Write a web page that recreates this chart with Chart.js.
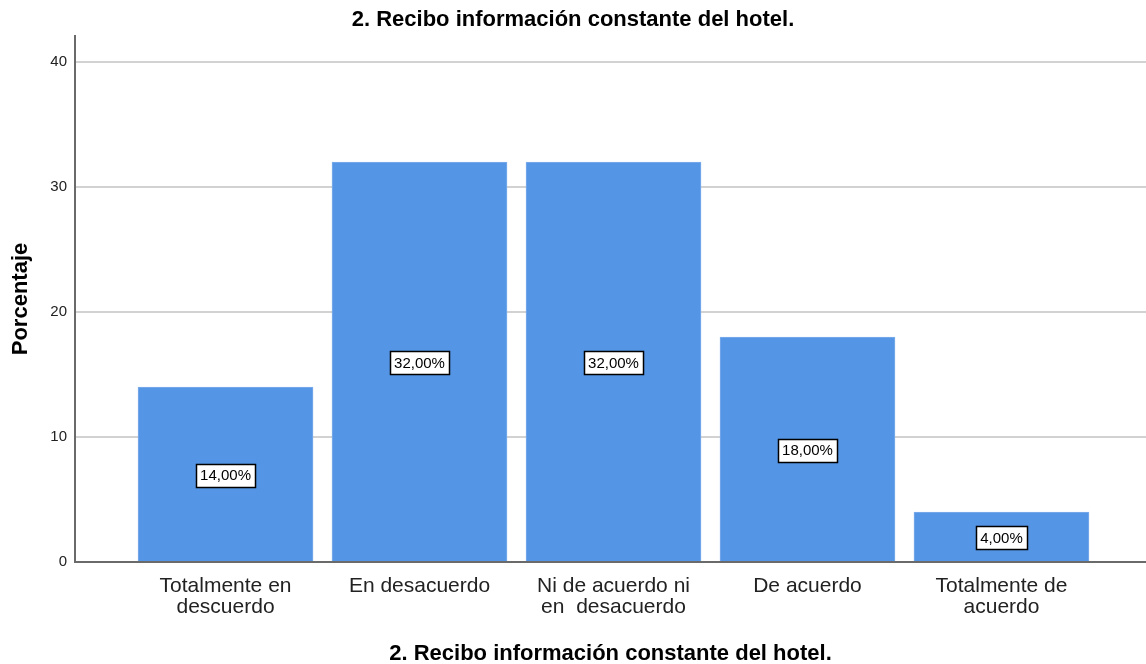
<!DOCTYPE html>
<html>
<head>
<meta charset="utf-8">
<script src="https://cdn.jsdelivr.net/npm/chart.js@4"></script>
<style>
html,body{margin:0;padding:0;background:#fff;}
#wrap{width:1146px;height:664px;}
</style>
</head>
<body>
<div id="wrap"><canvas id="c" width="1146" height="664"></canvas></div>
<script>
const chartTitle = "2. Recibo información constante del hotel.";
const xTitle = "2. Recibo información constante del hotel.";
const yTitle = "Porcentaje";
const categories = [
  ["Totalmente en", "descuerdo"],
  ["En desacuerdo"],
  ["Ni de acuerdo ni", "en  desacuerdo"],
  ["De acuerdo"],
  ["Totalmente de", "acuerdo"]
];
const percentages = [14, 32, 32, 18, 4];
const yTicks = [0, 10, 20, 30, 40];

const FONT = "'Liberation Sans', Arial, sans-serif";

const labelPlugin = {
  id: 'barLabels',
  afterDatasetsDraw(chart) {
    const ctx = chart.ctx;
    const meta = chart.getDatasetMeta(0);
    ctx.save();
    ctx.font = "15px " + FONT;
    ctx.textAlign = 'center';
    ctx.textBaseline = 'middle';
    meta.data.forEach((el, i) => {
      const txt = percentages[i].toFixed(2).replace('.', ',') + '%';
      const cx = el.x;
      const cy = (el.y + el.base) / 2 + 1;
      const w = ctx.measureText(txt).width + 8;
      const h = 23;
      const bx = Math.round(cx - w / 2) + 0.5, by = Math.round(cy - h / 2) + 0.5;
      ctx.fillStyle = '#fff';
      ctx.fillRect(bx, by, Math.round(w), h);
      ctx.strokeStyle = '#000';
      ctx.lineWidth = 1.5;
      ctx.strokeRect(bx, by, Math.round(w), h);
      ctx.fillStyle = '#000';
      ctx.fillText(txt, cx, cy + 1);
    });
    ctx.restore();
  }
};

new Chart(document.getElementById('c'), {
  type: 'bar',
  data: {
    datasets: [{
      data: percentages.map((v, i) => ({ x: i, y: v })),
      backgroundColor: '#5595E5',
      borderColor: '#7FAEEB',
      borderWidth: { left: 1, right: 1, top: 1, bottom: 0 },
      barThickness: 175
    }]
  },
  plugins: [labelPlugin],
  options: {
    responsive: false,
    animation: false,
    layout: { padding: 0 },
    plugins: {
      legend: { display: false },
      tooltip: { enabled: false },
      title: {
        display: true,
        text: chartTitle,
        color: '#000',
        font: { family: FONT, size: 22, weight: 'bold', lineHeight: 1.2 },
        padding: { top: 6.8, bottom: 2.8 }
      }
    },
    scales: {
      x: {
        type: 'linear',
        offset: false,
        min: -0.776,
        max: 4.745,
        afterBuildTicks(scale) {
          scale.ticks = categories.map((c, i) => ({ value: i }));
        },
        afterFit(scale) { scale.height = 102; },
        grid: { display: false, offset: false },
        border: { display: true, color: '#6a6a6a', width: 2 },
        ticks: {
          autoSkip: false,
          maxRotation: 0,
          padding: 5,
          color: '#222',
          font: { family: FONT, size: 21, lineHeight: 1.03 },
          callback: (v) => categories[v] || ''
        },
        title: {
          display: true,
          text: xTitle,
          color: '#000',
          font: { family: FONT, size: 22, weight: 'bold', lineHeight: 1.0 },
          padding: { top: 0, bottom: -1 }
        }
      },
      y: {
        min: 0,
        max: 42.08,
        afterBuildTicks(scale) {
          scale.ticks = yTicks.map(v => ({ value: v }));
        },
        afterFit(scale) { scale.width = 75; },
        grid: {
          color: '#d2d2d2',
          lineWidth: 2,
          drawTicks: false
        },
        border: { display: true, color: '#6a6a6a', width: 2 },
        ticks: {
          padding: 8,
          color: '#222',
          font: { family: FONT, size: 15 }
        },
        title: {
          display: true,
          text: yTitle,
          color: '#000',
          font: { family: FONT, size: 22, weight: 'bold', lineHeight: 1.2 },
          padding: { top: 8, bottom: 0 }
        }
      }
    }
  }
});
</script>
</body>
</html>
